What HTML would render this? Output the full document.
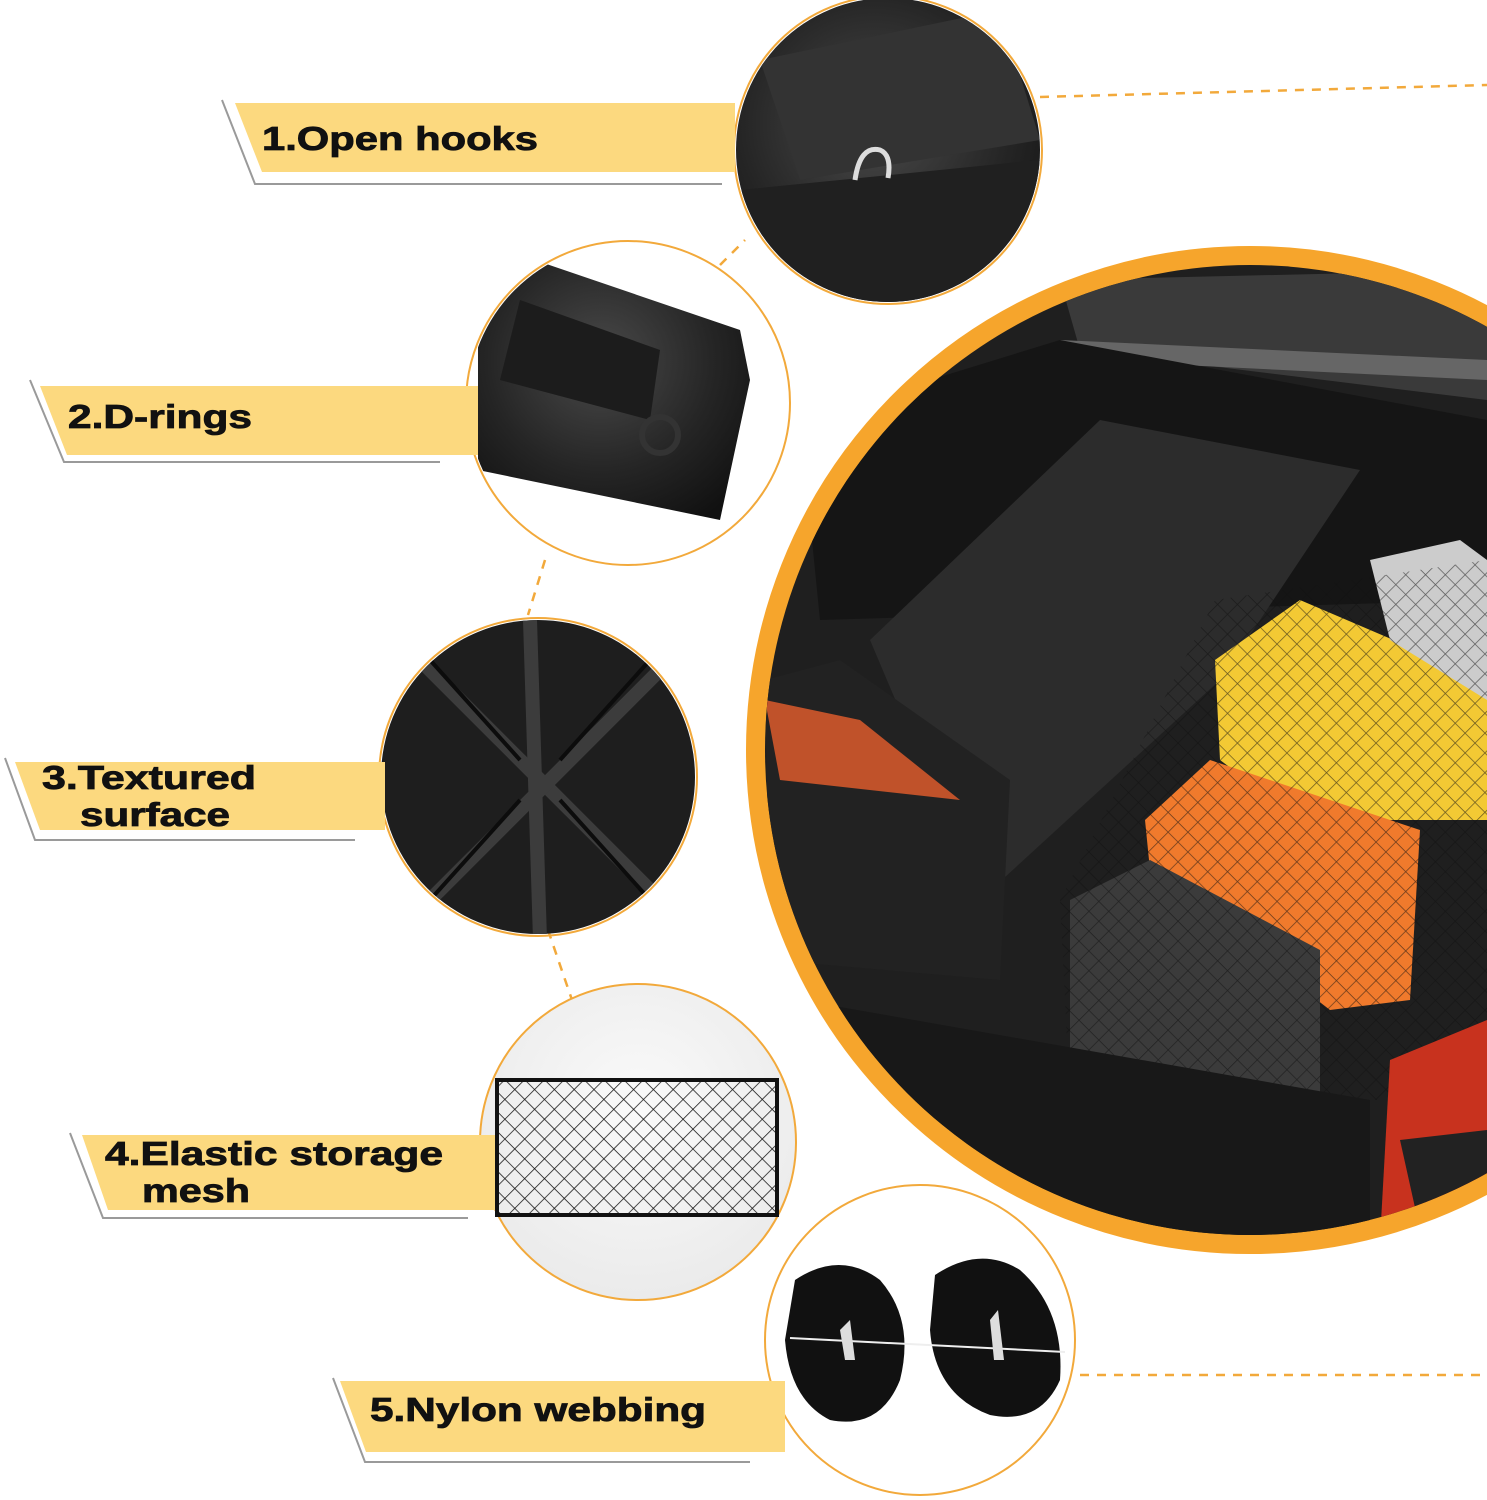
<!DOCTYPE html>
<html><head><meta charset="utf-8"><style>
html,body{margin:0;padding:0;background:#fff}
svg{display:block}
text{font-family:"Liberation Sans",Arial,sans-serif;font-weight:bold;fill:#111;stroke:#111;stroke-width:0.8}
</style></head><body>
<svg width="1487" height="1500" viewBox="0 0 1487 1500" xmlns="http://www.w3.org/2000/svg">
<defs>
<radialGradient id="dk" cx="45%" cy="40%" r="70%"><stop offset="0" stop-color="#4a4a4a"/><stop offset="0.6" stop-color="#252525"/><stop offset="1" stop-color="#111"/></radialGradient>
<radialGradient id="lt" cx="50%" cy="40%" r="70%"><stop offset="0" stop-color="#fafafa"/><stop offset="1" stop-color="#e8e8e8"/></radialGradient>
<clipPath id="cb"><circle cx="1250" cy="750" r="485"/></clipPath>
<clipPath id="c1"><circle cx="888" cy="150" r="152"/></clipPath>
<clipPath id="c2"><circle cx="628" cy="403" r="160"/></clipPath>
<clipPath id="c3"><circle cx="538" cy="777" r="157"/></clipPath>
<pattern id="mesh" width="14" height="14" patternUnits="userSpaceOnUse" patternTransform="rotate(45)"><path d="M0 0H14M0 0V14" stroke="#111" stroke-width="1.5" fill="none"/></pattern>
</defs>

<g stroke="#f2a93b" stroke-width="2.5" stroke-dasharray="9 8" fill="none">
<path d="M1040 97 L1487 85"/>
<path d="M1080 1375 L1487 1375"/>
<path d="M720 265 L745 240"/>
<path d="M545 560 L528 615"/>
<path d="M548 930 L572 1000"/>
</g>

<circle cx="1250" cy="750" r="494" fill="none" stroke="#f6a52c" stroke-width="20"/>
<g clip-path="url(#cb)">
<rect x="740" y="240" width="760" height="1020" fill="#1f1f1f"/>
<path d="M1060 280 L1487 270 L1487 400 L1080 350Z" fill="#3a3a3a"/>
<path d="M1060 340 L1487 360 L1487 380 L1080 360Z" fill="#666"/>
<path d="M800 420 L1060 340 L1487 420 L1487 600 L820 620Z" fill="#151515"/>
<path d="M870 640 L1100 420 L1360 470 L1220 680 L980 900 Z" fill="#2c2c2c"/>
<path d="M765 680 L840 660 L1010 780 L1000 980 L770 960Z" fill="#222"/>
<path d="M765 700 L860 720 L960 800 L780 780Z" fill="#c0522a"/>
<path d="M1215 660 L1300 600 L1487 680 L1487 820 L1300 820 L1220 760Z" fill="#f3c934"/>
<path d="M1145 820 L1210 760 L1420 830 L1410 1000 L1330 1010 L1150 870Z" fill="#f07a2c"/>
<path d="M1370 560 L1460 540 L1487 560 L1487 700 L1390 640Z" fill="#ccc"/>
<path d="M1070 900 L1150 860 L1320 950 L1320 1100 L1210 1130 L1070 1060Z" fill="#3b3b3b"/>
<path d="M1215 600 L1487 560 L1487 1100 L1070 1100 L1060 900Z" fill="url(#mesh)" opacity="0.6"/>
<path d="M800 1000 L1370 1100 L1370 1240 L800 1240Z" fill="#181818"/>
<path d="M1390 1060 L1487 1020 L1487 1240 L1380 1240Z" fill="#c8321e"/>
<path d="M1400 1140 L1487 1130 L1487 1230 L1420 1230Z" fill="#222"/>
</g>

<g clip-path="url(#c1)"><rect x="730" y="0" width="320" height="310" fill="url(#dk)"/>
<path d="M760 60 L1000 10 L1040 140 L800 180Z" fill="#333"/>
<path d="M740 190 L1040 160 L1040 310 L740 310Z" fill="#202020"/>
<path d="M855 180 Q860 145 880 150 Q892 155 888 178" stroke="#ddd" stroke-width="5" fill="none"/>
</g>
<circle cx="888" cy="150" r="154" fill="none" stroke="#f2a93b" stroke-width="2"/>

<g clip-path="url(#c2)"><rect x="460" y="240" width="340" height="330" fill="#fff"/>
<path d="M478 300 L520 255 L740 330 L750 380 L720 520 L478 470Z" fill="url(#dk)"/>
<path d="M520 300 L660 350 L650 420 L500 380Z" fill="#1c1c1c"/>
<circle cx="660" cy="435" r="18" fill="none" stroke="#333" stroke-width="6"/>
</g>
<circle cx="628" cy="403" r="162" fill="none" stroke="#f2a93b" stroke-width="2"/>

<g clip-path="url(#c3)"><rect x="375" y="615" width="330" height="330" fill="#1e1e1e"/>
<g stroke="#3c3c3c" stroke-width="14" fill="none"><path d="M400 640 L690 930"/><path d="M690 640 L400 930"/><path d="M530 620 L540 940"/></g>
<g stroke="#0c0c0c" stroke-width="4" fill="none"><path d="M430 660 L520 760 M650 660 L560 760 M430 900 L520 800 M650 900 L560 800"/></g>
</g>
<circle cx="538" cy="777" r="159" fill="none" stroke="#f2a93b" stroke-width="2"/>

<circle cx="638" cy="1142" r="158" fill="url(#lt)" stroke="#f2a93b" stroke-width="2"/>
<rect x="497" y="1080" width="280" height="135" fill="url(#mesh)" stroke="#111" stroke-width="4"/>

<circle cx="920" cy="1340" r="155" fill="#fff" stroke="#f2a93b" stroke-width="2"/>
<g fill="#111">
<path d="M795 1280 Q840 1250 880 1280 Q915 1320 900 1380 Q880 1430 830 1420 Q790 1400 785 1340Z"/>
<path d="M935 1275 Q980 1245 1020 1270 Q1065 1310 1060 1380 Q1040 1425 990 1415 Q935 1395 930 1330Z"/>
</g>
<path d="M790 1338 Q930 1345 1065 1352" stroke="#eee" stroke-width="2" fill="none"/>
<path d="M840 1330 L850 1320 L855 1360 L845 1360Z M990 1320 L998 1310 L1004 1360 L994 1360Z" fill="#ddd"/>

<g fill="#fcd97f">
<polygon points="235,103 735,103 735,172 262,172"/>
<polygon points="40,386 478,386 478,455 67,455"/>
<polygon points="15,762 385,762 385,830 40,830"/>
<polygon points="82,1135 495,1135 495,1210 108,1210"/>
<polygon points="340,1381 785,1381 785,1452 366,1452"/>
</g>
<g stroke="#9a9a9a" stroke-width="2" fill="none">
<polyline points="222,100 255,184 722,184"/>
<polyline points="30,380 64,462 440,462"/>
<polyline points="5,758 35,840 355,840"/>
<polyline points="70,1133 103,1218 468,1218"/>
<polyline points="333,1378 365,1462 750,1462"/>
</g>
<text x="262" y="150" font-size="33" textLength="276" lengthAdjust="spacingAndGlyphs">1.Open hooks</text>
<text x="68" y="428" font-size="33" textLength="184" lengthAdjust="spacingAndGlyphs">2.D-rings</text>
<text x="42" y="789" font-size="33" textLength="214" lengthAdjust="spacingAndGlyphs">3.Textured</text>
<text x="80" y="826" font-size="33" textLength="150" lengthAdjust="spacingAndGlyphs">surface</text>
<text x="105" y="1165" font-size="33" textLength="338" lengthAdjust="spacingAndGlyphs">4.Elastic storage</text>
<text x="142" y="1202" font-size="33" textLength="108" lengthAdjust="spacingAndGlyphs">mesh</text>
<text x="370" y="1421" font-size="33" textLength="336" lengthAdjust="spacingAndGlyphs">5.Nylon webbing</text>
</svg>
</body></html>
